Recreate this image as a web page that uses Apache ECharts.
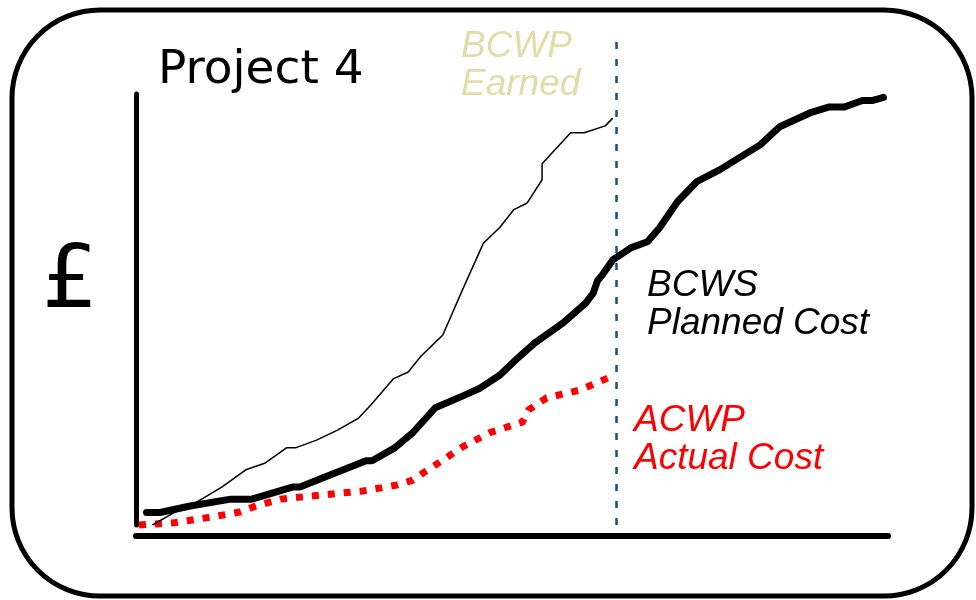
<!DOCTYPE html>
<html>
<head>
<meta charset="utf-8">
<script src="https://cdn.jsdelivr.net/npm/echarts@6/dist/echarts.min.js"></script>
<style>
  html, body { margin: 0; padding: 0; background: #fff; }
  #chart { width: 976px; height: 600px; }
</style>
</head>
<body>
<div id="chart"></div>
<script>
// Earned value curves for Project 4 (x = project week, y = cumulative cost, % of budget)
const bcwsWeeks = [0.7, 1.6, 3.6, 6.3, 7.7, 10.4, 10.9, 12.9, 15.3, 15.7, 17.2, 18.4, 19.9, 21.7, 22.9, 24.2, 25.4, 26.5, 28.4, 29.9, 30.4, 30.7, 31.0, 31.7, 32.9, 34.0, 34.8, 36.0, 37.3, 38.8, 41.5, 42.8, 44.8, 46.1, 47.1, 48.3, 49.0, 49.7];
const bcwsCost  = [2.9, 2.9, 4.4, 6.0, 6.0, 8.8, 8.8, 11.6, 14.9, 14.9, 17.9, 21.4, 27.2, 29.9, 31.8, 34.8, 38.8, 42.2, 46.9, 51.5, 53.8, 56.8, 58.0, 61.5, 64.3, 65.7, 68.9, 75.0, 79.7, 82.4, 88.2, 92.4, 95.6, 97.0, 97.0, 98.5, 98.5, 99.2];

const bcwpWeeks = [1.1, 2.5, 3.7, 5.7, 7.3, 8.6, 10.0, 10.6, 12.0, 13.4, 14.8, 15.6, 17.1, 18.1, 18.9, 20.4, 21.7, 23.1, 24.2, 25.1, 26.0, 27.0, 27.0, 28.9, 29.8, 31.2, 31.7];
const bcwpCost  = [0, 2.8, 4.6, 8.8, 12.8, 14.4, 17.9, 17.9, 19.7, 22.0, 24.8, 27.8, 33.9, 35.5, 39.0, 44.1, 54.5, 65.4, 69.1, 73.1, 74.7, 80.1, 83.8, 91.0, 91.0, 92.6, 94.4];

const acwpWeeks = [0.2, 2.5, 5.1, 6.9, 7.8, 9.6, 11.6, 15.1, 17.4, 18.4, 19.1, 20.2, 21.7, 23.5, 25.7, 26.1, 27.3, 29.5, 31.5];
const acwpCost  = [0, 0.5, 1.9, 3.0, 4.2, 6.0, 6.7, 7.9, 9.3, 10.4, 12.1, 14.6, 18.1, 21.4, 23.9, 26.7, 29.5, 31.3, 34.3];

const statusWeek = 31.9;   // reporting date
const weekRange = [0, 50];
const costRange = [0, 100];

const pairs = (xs, ys) => xs.map((x, i) => [x, ys[i]]);

const chart = echarts.init(document.getElementById('chart'), null, { renderer: 'canvas' });

const labelFont = '"Liberation Sans", Arial, sans-serif';

chart.setOption({
  animation: false,
  backgroundColor: '#ffffff',
  grid: [
    { left: 136, right: 88, top: 94, bottom: 75 },
    { left: 136, right: 88, top: 35, bottom: 75 }
  ],
  xAxis: [
    {
      gridIndex: 0, type: 'value', min: weekRange[0], max: weekRange[1], offset: 11,
      axisLine: { show: true, onZero: false, lineStyle: { color: '#000', width: 6 } },
      axisTick: { show: false }, axisLabel: { show: false }, splitLine: { show: false }
    },
    {
      gridIndex: 1, type: 'value', min: weekRange[0], max: weekRange[1], show: false
    }
  ],
  yAxis: [
    {
      gridIndex: 0, type: 'value', min: costRange[0], max: costRange[1],
      axisLine: { show: true, onZero: false, lineStyle: { color: '#000', width: 5 } },
      axisTick: { show: false }, axisLabel: { show: false }, splitLine: { show: false }
    },
    {
      gridIndex: 1, type: 'value', min: 0, max: 1, show: false
    }
  ],
  series: [
    {
      name: 'ACWP', type: 'line', xAxisIndex: 0, yAxisIndex: 0, clip: false,
      data: pairs(acwpWeeks, acwpCost), showSymbol: false, silent: true,
      lineStyle: { color: '#ff0000', width: 7, type: [7, 9], cap: 'butt', join: 'miter' }
    },
    {
      name: 'BCWP', type: 'line', xAxisIndex: 0, yAxisIndex: 0, clip: false,
      data: pairs(bcwpWeeks, bcwpCost), showSymbol: false, silent: true,
      lineStyle: { color: '#000', width: 1.5 }
    },
    {
      name: 'BCWS', type: 'line', xAxisIndex: 0, yAxisIndex: 0, clip: false,
      data: pairs(bcwsWeeks, bcwsCost), showSymbol: false, silent: true,
      lineStyle: { color: '#000', width: 7, cap: 'round', join: 'round' }
    },
    {
      name: 'Status date', type: 'line', xAxisIndex: 1, yAxisIndex: 1,
      data: [], silent: true,
      markLine: {
        silent: true, symbol: ['none', 'none'], label: { show: false },
        lineStyle: { color: '#1f4e79', width: 2.5, type: [7, 10] },
        data: [{ xAxis: statusWeek }]
      }
    }
  ],
  graphic: [
    {
      type: 'rect', silent: true, z: -1,
      shape: { x: 12, y: 10, width: 960, height: 586, r: 88 },
      style: { fill: 'none', stroke: '#000', lineWidth: 5 }
    },
    {
      type: 'text', silent: true, x: 158, y: 47,
      style: { text: 'Project 4', font: '47px "DejaVu Sans", Verdana, sans-serif', fill: '#000', lineHeight: 47 }
    },
    {
      type: 'text', silent: true, x: 70, y: 240,
      style: { text: '£', font: '88px "DejaVu Sans", Verdana, sans-serif', fill: '#000', align: 'center', lineHeight: 88 }
    },
    {
      type: 'text', silent: true, x: 461, y: 28,
      style: { text: 'BCWP\nEarned', font: 'italic 37px ' + labelFont, fill: '#e3dba8', lineHeight: 38 }
    },
    {
      type: 'text', silent: true, x: 647, y: 267,
      style: { text: 'BCWS\nPlanned Cost', font: 'italic 37px ' + labelFont, fill: '#000', lineHeight: 38 }
    },
    {
      type: 'text', silent: true, x: 634, y: 402,
      style: { text: 'ACWP\nActual Cost', font: 'italic 37px ' + labelFont, fill: '#ff0000', lineHeight: 38 }
    }
  ]
});
</script>
</body>
</html>
